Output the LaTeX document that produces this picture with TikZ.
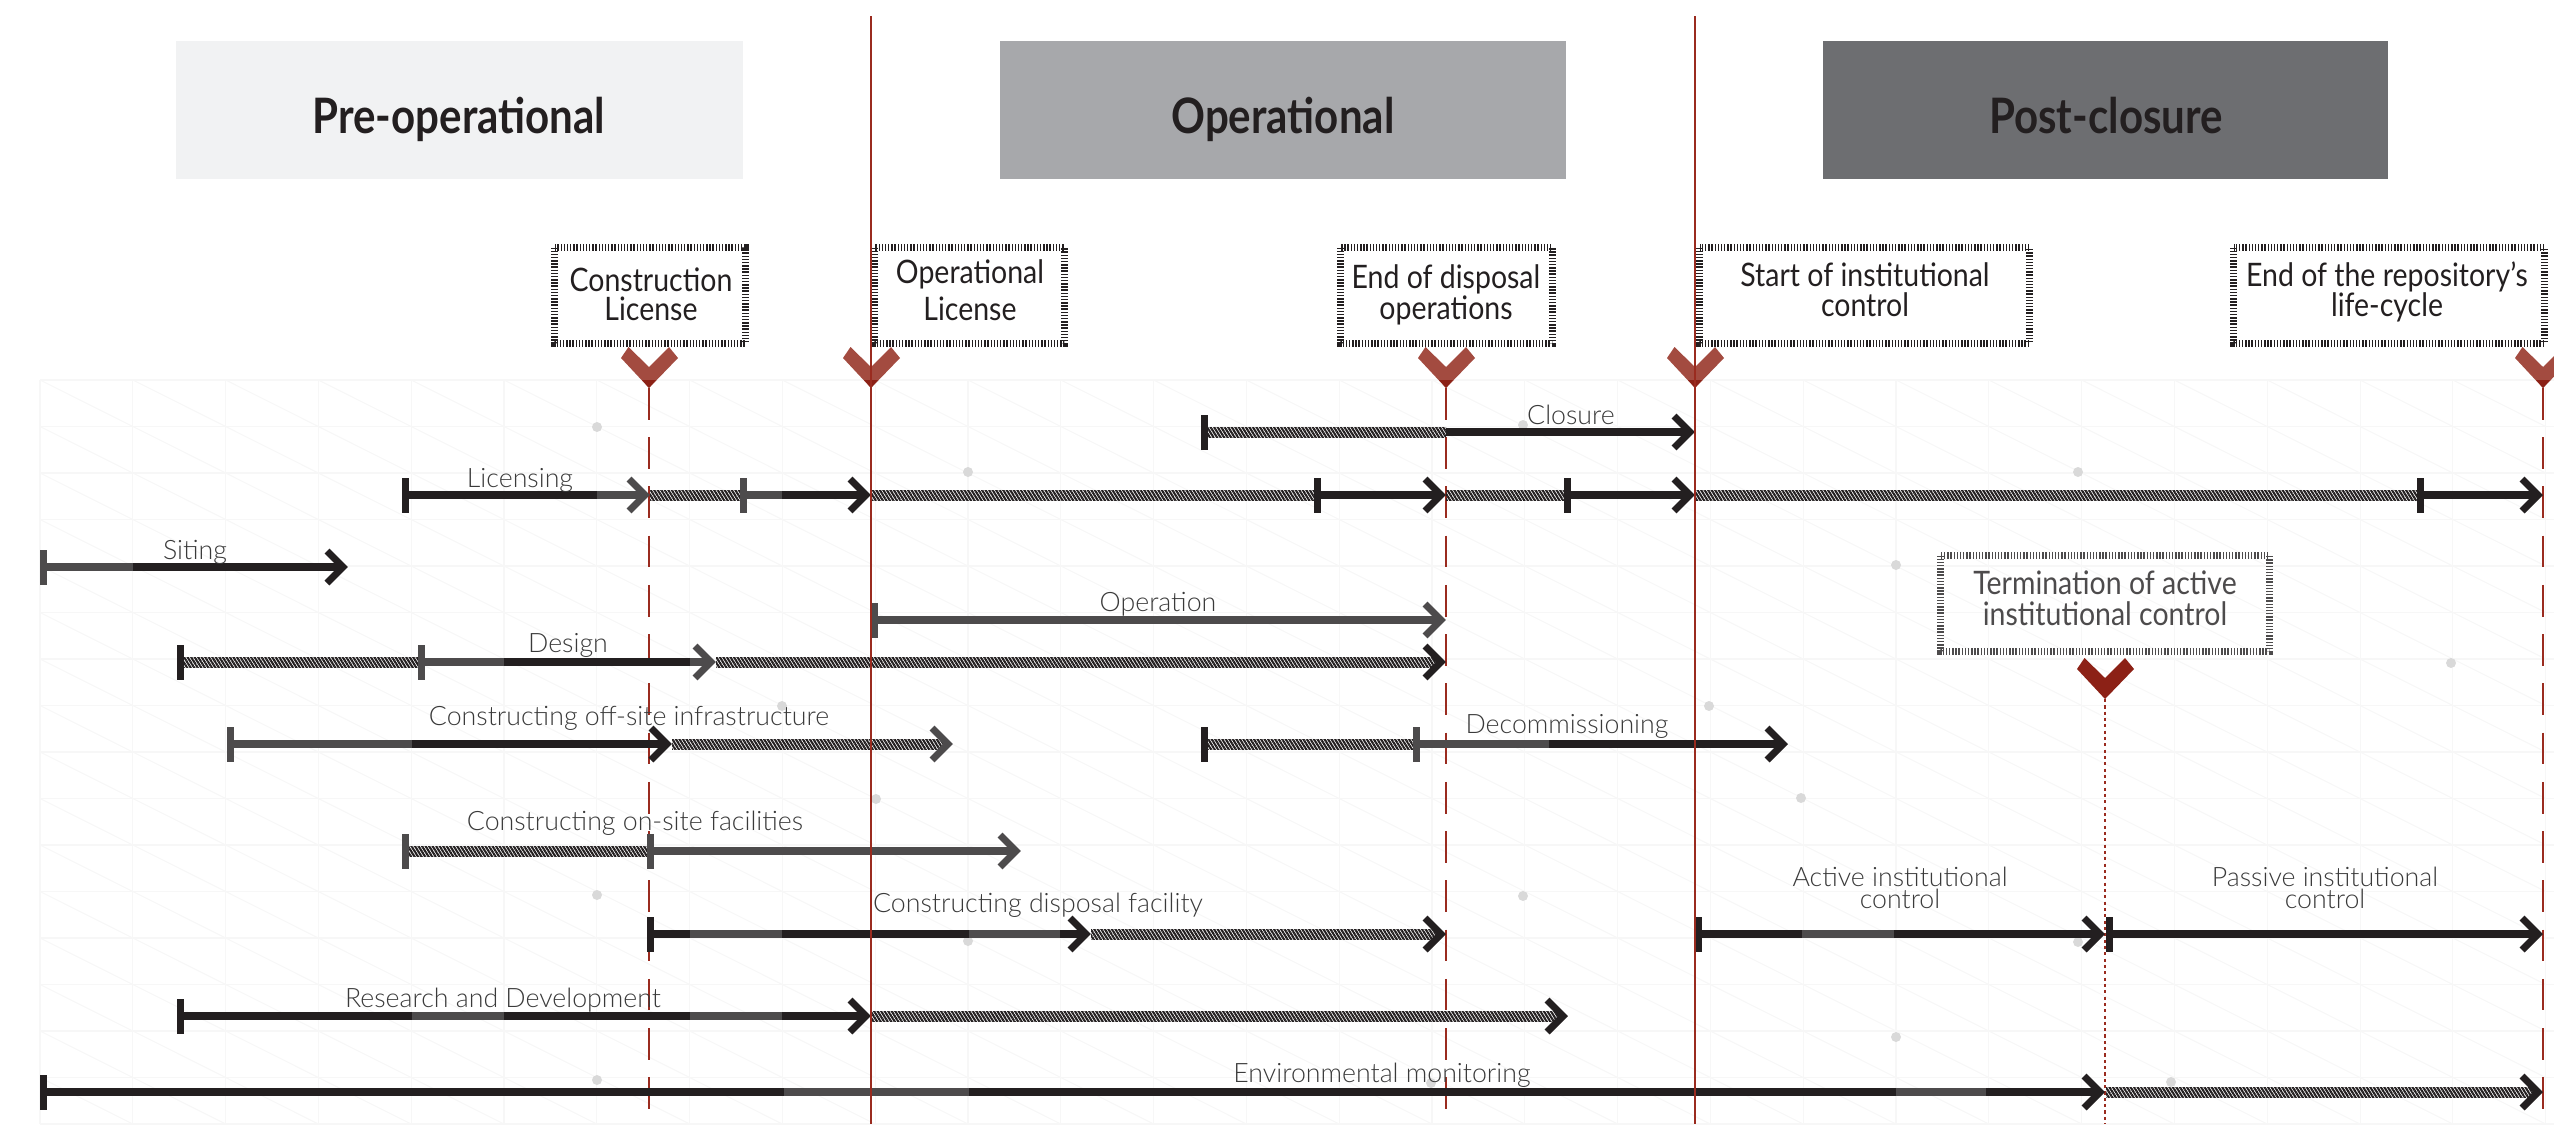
\documentclass[tikz,border=0pt]{standalone}
\usepackage{fontspec}
\setmainfont{Lato}
\IfFontExistsTF{Lato Light}{\newfontfamily\lblfont{Lato Light}}{\newfontfamily\lblfont{Lato}}
\newfontfamily\headfont{Lato}[FakeStretch=0.86]
\newfontfamily\msfont{Lato}[FakeStretch=0.88]
\usetikzlibrary{patterns.meta}

\definecolor{ink}{HTML}{231F20}
\definecolor{slate}{HTML}{4D4B4C}
\definecolor{rust}{HTML}{9A2B1F}
\definecolor{marker}{HTML}{A34B40}
\definecolor{markerdark}{HTML}{8C2116}
\definecolor{phaseA}{HTML}{F1F2F3}
\definecolor{phaseB}{HTML}{A7A8AB}
\definecolor{phaseC}{HTML}{6D6E71}
\definecolor{gridline}{HTML}{F7F7F7}
\definecolor{dotgray}{HTML}{D9D9D9}
\definecolor{labelgray}{HTML}{3A3A3A}

\tikzset{
  phasetext/.style={anchor=base, text=ink, inner sep=0pt,
    font=\headfont\bfseries\fontsize{13.9}{14}\selectfont},
  mstext/.style={anchor=base, text=ink, inner sep=0pt,
    font=\msfont\fontsize{9.2}{10}\selectfont},
  lbl/.style={anchor=base, text=labelgray, inner sep=0pt,
    font=\lblfont\fontsize{7.6}{8}\selectfont},
  msborder/.style={draw=#1, line width=2.13pt, dash pattern=on 0.4pt off 0.5pt},
  phaseline/.style={rust, line width=0.75pt},
  milestoneline/.style={rust, line width=0.55pt, dash pattern=on 9pt off 5pt},
  hatchfill/.style={pattern={Lines[angle=-58,distance=0.85pt,line width=0.6pt]},
    pattern color=ink},
}

% timeline pieces: start bar, solid run, hatched run, open arrow head
\newcommand\tlTick[3]{\fill[#3] ({#1-3.5},{#2-17.5}) rectangle ({#1+3.5},{#2+17.5});}
\newcommand\tlBar[4]{\fill[#4] (#1,{#3-4}) rectangle (#2,{#3+4});}
\newcommand\tlHatch[3]{\fill[hatchfill] (#1,{#3-5}) rectangle (#2,{#3+5});}
\newcommand\tlHead[3]{\draw[#3, line width=2pt, miter limit=10]
  ({#1-21},{#2-16}) -- ({#1-5},#2) -- ({#1-21},{#2+16});}
% milestone chevron
\newcommand\tlMarker[3]{\fill[#3] ({#1-20.5},#2) -- ({#1-28},{#2+11}) -- (#1,{#2+41})
  -- ({#1+29},{#2+11}) -- ({#1+20},#2) -- (#1,{#2+20}) -- cycle;}

\begin{document}
\begin{tikzpicture}[x=0.01cm, y=-0.01cm]
\useasboundingbox (0,0) rectangle (2554,1124);
\clip (0,0) rectangle (2554,1124);

% faint background grid
\begin{scope}[draw=gridline, line width=0.3pt]
  \foreach \i in {0,...,27} {\draw ({40+92.8*\i},380) -- ({40+92.8*\i},1124);}
  \foreach \j in {0,...,16} {\draw (40,{380+46.5*\j}) -- (2554,{380+46.5*\j});}
  \foreach \i in {0,...,26} {
    \foreach \j in {0,...,15} {
      \draw ({40+92.8*\i},{380+46.5*\j}) -- ({40+92.8*(\i+1)},{380+46.5*(\j+1)});
    }
  }
\end{scope}
\foreach \p in {(597,427),(1523,425),(968,472),(2078,472),(1896,565),(2451,663),
  (1153,662),(782,706),(1709,706),(1801,798),(876,799),(597,895),(1523,896),
  (968,941),(2078,942),(1896,1037),(597,1080),(1431,1083),(2171,1082)}
  {\fill[dotgray] \p circle[radius=1.42pt];}

% phase headers
\fill[phaseA] (176,41) rectangle (743,179);
\fill[phaseB] (1000,41) rectangle (1566,179);
\fill[phaseC] (1823,41) rectangle (2388,179);
\node[phasetext] (preop) at (459,133) {Pre-operational};
\node[phasetext] (oper) at (1283,133) {Operational};
\node[phasetext] (postcl) at (2106,133) {Post-closure};

% milestone lines
\draw[milestoneline] (649,388) -- (649,1124);
\draw[milestoneline] (1446,388) -- (1446,1124);
\draw[milestoneline] (2543,388) -- (2543,1124);
\draw[rust, line width=0.35pt, dash pattern=on 0.9pt off 0.9pt] (2105,699) -- (2105,1124);

% milestone boxes
\draw[msborder=ink] (554.5,247.5) rectangle (745.5,343.5);
\node[mstext] (cl1) at (651,291) {Construction};
\node[mstext] (cl2) at (651,320) {License};
\draw[msborder=ink] (874.5,247.5) rectangle (1064.5,343.5);
\node[mstext] (ol1) at (970,283) {Operational};
\node[mstext] (ol2) at (970,320) {License};
\draw[msborder=ink] (1340.5,247.5) rectangle (1552.5,343.5);
\node[mstext] (ed1) at (1446,288) {End of disposal};
\node[mstext] (ed2) at (1446,319) {operations};
\draw[msborder=ink] (1699.5,247.5) rectangle (2029.5,343.5);
\node[mstext] (si1) at (1865,286) {Start of institutional};
\node[mstext] (si2) at (1865,316) {control};
\draw[msborder=ink] (2233.5,247.5) rectangle (2544.5,343.5);
\node[mstext] (er1) at (2387,286) {End of the repository’s};
\node[mstext] (er2) at (2387,316) {life-cycle};
\draw[msborder=slate] (1940.5,555.5) rectangle (2269.5,651.5);
\node[mstext, text=slate] (ta1) at (2105,594) {Termination of active};
\node[mstext, text=slate] (ta2) at (2105,625) {institutional control};

% chevrons
\foreach \cx in {649,871,1446,1695,2543} {
  \tlMarker{\cx}{347}{marker}
  \fill[markerdark] ({\cx-7},380) -- ({\cx+7},380) -- (\cx,388) -- cycle;
}
\tlMarker{2105}{658}{markerdark}

% Closure
\tlHatch{1207}{1446}{432}
\tlBar{1446}{1689}{432}{ink} \tlTick{1204}{432}{ink} \tlHead{1695}{432}{ink}
% Licensing
\tlBar{405}{597}{495}{ink} \tlBar{597}{644}{495}{slate} \tlTick{405}{495}{ink} \tlHead{650}{495}{slate}
\tlHatch{650}{741}{495}
\tlBar{743}{782}{495}{slate} \tlBar{782}{865}{495}{ink} \tlTick{743}{495}{slate} \tlHead{871}{495}{ink}
\tlHatch{871}{1315}{495}
\tlBar{1317}{1440}{495}{ink} \tlTick{1317}{495}{ink} \tlHead{1446}{495}{ink}
\tlHatch{1446}{1565}{495}
\tlBar{1567}{1689}{495}{ink} \tlTick{1567}{495}{ink} \tlHead{1695}{495}{ink}
\tlHatch{1695}{2418}{495}
\tlBar{2420}{2537}{495}{ink} \tlTick{2420}{495}{ink} \tlHead{2543}{495}{ink}
% Siting
\tlBar{43}{133}{567}{slate} \tlBar{133}{342}{567}{ink} \tlTick{43}{567}{slate} \tlHead{348}{567}{ink}
% Operation
\tlBar{874}{1440}{620}{slate} \tlTick{874}{620}{slate} \tlHead{1446}{620}{slate}
% Design
\tlHatch{180}{419}{662} \tlTick{180}{662}{ink}
\tlBar{421}{504}{662}{slate} \tlBar{504}{690}{662}{ink} \tlBar{690}{710}{662}{slate}
\tlTick{421}{662}{slate} \tlHead{716}{662}{slate}
\tlHatch{716}{1440}{662} \tlHead{1446}{662}{ink}
% Constructing off-site infrastructure
\tlBar{230}{412}{744}{slate} \tlBar{412}{666}{744}{ink} \tlTick{230}{744}{slate} \tlHead{672}{744}{ink}
\tlHatch{672}{947}{744} \tlHead{953}{744}{slate}
% Decommissioning
\tlHatch{1207}{1414}{744} \tlTick{1204}{744}{ink}
\tlBar{1416}{1549}{744}{slate} \tlBar{1549}{1782}{744}{ink} \tlTick{1416}{744}{slate} \tlHead{1788}{744}{ink}
% Constructing on-site facilities
\tlHatch{408}{648}{851} \tlTick{405}{851}{slate}
\tlBar{650}{1015}{851}{slate} \tlTick{650}{851}{slate} \tlHead{1021}{851}{slate}
% Constructing disposal facility
\tlBar{650}{690}{934}{ink} \tlBar{690}{782}{934}{slate} \tlBar{782}{969}{934}{ink}
\tlBar{969}{1060}{934}{slate} \tlBar{1060}{1085}{934}{ink} \tlTick{650}{934}{ink} \tlHead{1091}{934}{ink}
\tlHatch{1091}{1440}{934} \tlHead{1446}{934}{ink}
% Active / passive institutional control
\tlBar{1698}{1802}{934}{ink} \tlBar{1802}{1894}{934}{slate} \tlBar{1894}{2099}{934}{ink}
\tlTick{1698}{934}{ink} \tlHead{2105}{934}{ink}
\tlBar{2109}{2537}{934}{ink} \tlTick{2109}{934}{ink} \tlHead{2543}{934}{ink}
% Research and Development
\tlBar{180}{412}{1016}{ink} \tlBar{412}{504}{1016}{slate} \tlBar{504}{690}{1016}{ink}
\tlBar{690}{782}{1016}{slate} \tlBar{782}{865}{1016}{ink} \tlTick{180}{1016}{ink} \tlHead{871}{1016}{ink}
\tlHatch{871}{1562}{1016} \tlHead{1568}{1016}{ink}
% Environmental monitoring
\tlBar{43}{784}{1092}{ink} \tlBar{784}{969}{1092}{slate} \tlBar{969}{1896}{1092}{ink}
\tlBar{1896}{1986}{1092}{slate} \tlBar{1986}{2099}{1092}{ink} \tlTick{43}{1092}{ink} \tlHead{2105}{1092}{ink}
\tlHatch{2106}{2537}{1092} \tlHead{2543}{1092}{ink}

% phase boundaries
\draw[phaseline] (871,16) -- (871,1124);
\draw[phaseline] (1695,16) -- (1695,1124);

% activity labels
\node[lbl] (lClosure) at (1571,424) {Closure};
\node[lbl] (lLicensing) at (520,487) {Licensing};
\node[lbl] (lSiting) at (195,559) {Siting};
\node[lbl] (lOperation) at (1158,611) {Operation};
\node[lbl] (lDesign) at (568,652) {Design};
\node[lbl] (lOffsite) at (629,725) {Constructing off-site infrastructure};
\node[lbl] (lDecom) at (1567,733) {Decommissioning};
\node[lbl] (lOnsite) at (635,830) {Constructing on-site facilities};
\node[lbl] (lDisposal) at (1038,912) {Constructing disposal facility};
\node[lbl] (lActive1) at (1900,886) {Active institutional};
\node[lbl] (lActive2) at (1900,908) {control};
\node[lbl] (lPassive1) at (2325,886) {Passive institutional};
\node[lbl] (lPassive2) at (2325,908) {control};
\node[lbl] (lRD) at (503,1007) {Research and Development};
\node[lbl] (lEnv) at (1382,1082) {Environmental monitoring};
\end{tikzpicture}
\end{document}
